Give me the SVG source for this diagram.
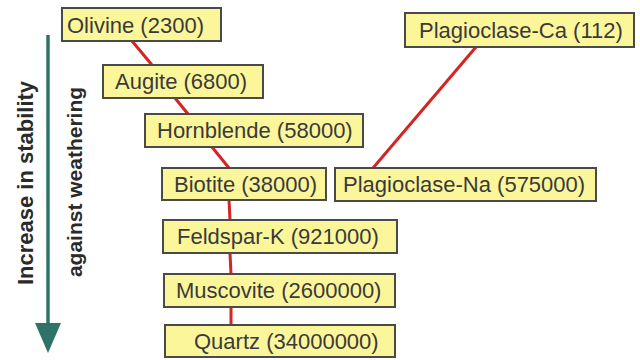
<svg xmlns="http://www.w3.org/2000/svg" width="640" height="360" viewBox="0 0 640 360">
<style>
.box{fill:#fcf69b;stroke:#4a4a48;stroke-width:2}
.lbl{font-family:"Liberation Sans",Arial,sans-serif;font-size:22px;fill:#3a3a3a}
.side{font-family:"Liberation Sans",Arial,sans-serif;font-weight:bold;fill:#2a2a2a;text-anchor:middle}
.con{stroke:#d42424;stroke-width:3;fill:none}
</style>
<rect width="640" height="360" fill="#ffffff"/>
<g id="connectors">
<line class="con" x1="132" y1="41" x2="152" y2="65"/>
<line class="con" x1="175" y1="98" x2="188" y2="114"/>
<line class="con" x1="212" y1="147" x2="229" y2="168"/>
<line class="con" x1="229" y1="200" x2="230" y2="220"/>
<line class="con" x1="230" y1="253" x2="231" y2="274"/>
<line class="con" x1="231" y1="307" x2="231" y2="325"/>
<line class="con" x1="476" y1="47" x2="373" y2="168"/>
</g>
<g id="axis">
<line x1="48" y1="35" x2="48" y2="326" stroke="#2f7367" stroke-width="3.5"/>
<polygon points="35,323 61,323 48,353" fill="#2f7367"/>
<text class="side" font-size="22" transform="translate(33,183) rotate(-90)">Increase in stability</text>
<text class="side" font-size="21" transform="translate(82,182) rotate(-90)">against weathering</text>
</g>
<g id="olivine"><rect class="box" x="62" y="8" width="159" height="33"/><text class="lbl" x="67" y="33">Olivine (2300)</text></g>
<g id="augite"><rect class="box" x="103" y="65" width="160" height="33"/><text class="lbl" x="115" y="89">Augite (6800)</text></g>
<g id="hornblende"><rect class="box" x="145" y="114" width="218" height="33"/><text class="lbl" x="157" y="138">Hornblende (58000)</text></g>
<g id="biotite"><rect class="box" x="162" y="168" width="164" height="32"/><text class="lbl" x="174" y="192">Biotite (38000)</text></g>
<g id="plagioclase-ca"><rect class="box" x="405" y="13" width="229" height="34"/><text class="lbl" x="419" y="38">Plagioclase-Ca (112)</text></g>
<g id="plagioclase-na"><rect class="box" x="335" y="168" width="261" height="33"/><text class="lbl" x="343" y="192">Plagioclase-Na (575000)</text></g>
<g id="feldspar-k"><rect class="box" x="163" y="220" width="234" height="33"/><text class="lbl" x="177" y="244">Feldspar-K (921000)</text></g>
<g id="muscovite"><rect class="box" x="164" y="274" width="231" height="33"/><text class="lbl" x="176" y="298">Muscovite (2600000)</text></g>
<g id="quartz"><rect class="box" x="165" y="325" width="230" height="32"/><text class="lbl" x="194" y="349">Quartz (34000000)</text></g>
</svg>
